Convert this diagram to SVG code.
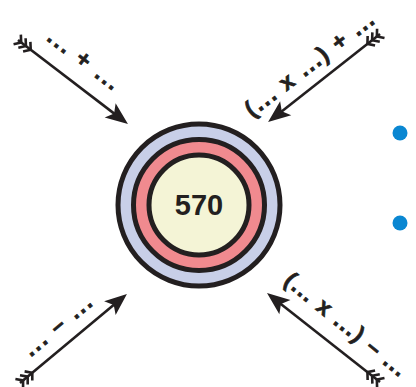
<svg xmlns="http://www.w3.org/2000/svg" width="416" height="387" viewBox="0 0 416 387">
<style>
.shaft{stroke:#231f20;stroke-width:2.6;fill:none}
.head{fill:#231f20}
.fl{stroke:#231f20;stroke-width:2.6;fill:none}
.lbl{font-family:"Liberation Sans",Arial,sans-serif;font-weight:bold;font-size:23px;fill:#231f20;stroke:#231f20;stroke-width:0.7}
.ring{stroke:#231f20;stroke-width:5}
.dot{fill:#0a87d2}
</style>
<defs>
<g id="fletch">
<path class="fl" d="M-1,-6 L4,0 L-1,6 M5,-6 L10,0 L5,6 M11,-6 L16,0 L11,6"/>
</g>
</defs>
<rect width="416" height="387" fill="#fff"/>
<g id="connectors">
<g id="arrow-tl" transform="translate(18,40) rotate(37.4)">
<line class="shaft" x1="0" y1="0" x2="122" y2="0"/>
<path class="head" d="M138.4,0 L116,-9 L121,0 L116,9 Z"/>
<use href="#fletch"/>
</g>
<g id="arrow-tr" transform="translate(380,34) rotate(141.8)">
<line class="shaft" x1="0" y1="0" x2="126" y2="0"/>
<path class="head" d="M142.4,0 L120,-9 L125,0 L120,9 Z"/>
<use href="#fletch"/>
</g>
<g id="arrow-bl" transform="translate(20,383) rotate(-39.8)">
<line class="shaft" x1="0" y1="0" x2="123" y2="0"/>
<path class="head" d="M139.2,0 L117,-9 L122,0 L117,9 Z"/>
<use href="#fletch"/>
</g>
<g id="arrow-br" transform="translate(380,382) rotate(218.2)">
<line class="shaft" x1="0" y1="0" x2="127" y2="0"/>
<path class="head" d="M143.8,0 L121,-9 L126,0 L121,9 Z"/>
<use href="#fletch"/>
</g>
</g>
<g id="label-tl" transform="translate(84,59) rotate(37.5)">
<text class="lbl" x="0" y="0" text-anchor="middle" dominant-baseline="central" textLength="84" lengthAdjust="spacing">... + ...</text>
</g>
<g id="label-tr" transform="translate(309,64) rotate(-37.5)">
<text class="lbl" x="0" y="0" text-anchor="middle" dominant-baseline="central" textLength="156" lengthAdjust="spacing">(... x ...) + ...</text>
</g>
<g id="label-bl" transform="translate(57,325) rotate(-40)">
<text class="lbl" x="0" y="0" text-anchor="middle" dominant-baseline="central" textLength="82" lengthAdjust="spacing">... – ...</text>
</g>
<g id="label-br" transform="translate(346,324) rotate(39)">
<text class="lbl" x="0" y="0" text-anchor="middle" dominant-baseline="central" textLength="150" lengthAdjust="spacing">(... x ...) – ...</text>
</g>
<g id="node-570">
<circle class="ring" cx="199" cy="205" r="81" fill="#c8cfe8"/>
<circle class="ring" cx="199" cy="205" r="65.5" fill="#f08a8f"/>
<circle class="ring" cx="199" cy="205" r="50" fill="#f4f4d6"/>
<text x="199" y="205" text-anchor="middle" dominant-baseline="central" font-family="Liberation Sans, Arial, sans-serif" font-weight="bold" font-size="29" fill="#231f20">570</text>
</g>
<g id="bullets">
<circle class="dot" cx="400" cy="133" r="7.5"/>
<circle class="dot" cx="400" cy="223" r="7.5"/>
</g>
</svg>
